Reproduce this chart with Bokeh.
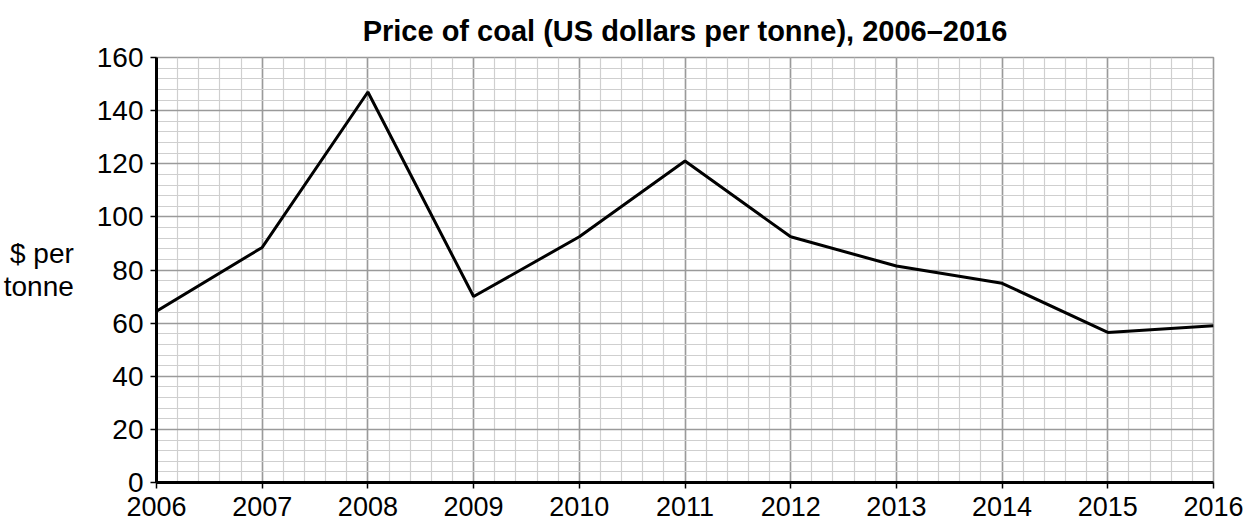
from bokeh.plotting import figure
from bokeh.models import SingleIntervalTicker, Range1d, Title
from bokeh.embed import file_html
from bokeh.resources import INLINE

years = [2006, 2007, 2008, 2009, 2010, 2011, 2012, 2013, 2014, 2015, 2016]
prices = [64.5, 88.5, 147, 70, 92.5, 121, 92.5, 81.5, 75, 56.5, 59]
title_text = "Price of coal (US dollars per tonne), 2006\u20132016"
ylabel_text = "$ per\ntonne"

FONT = "Liberation Sans"

p = figure(width=1250, height=527, output_backend="svg", toolbar_location=None,
           x_range=Range1d(2006, 2016), y_range=Range1d(0, 160),
           min_border_left=155, min_border_right=37, min_border_top=57, min_border_bottom=45)

p.title = Title(text=title_text, align="center", text_font=FONT,
                text_font_size="29px", text_font_style="bold", text_color="black", standoff=22)

p.xaxis.ticker = SingleIntervalTicker(interval=1, num_minor_ticks=5)
p.yaxis.ticker = SingleIntervalTicker(interval=20, num_minor_ticks=5)

for ax in (p.xaxis, p.yaxis):
    ax.axis_line_color = "black"
    ax.axis_line_width = 3
    ax.major_tick_line_color = "black"
    ax.major_tick_line_width = 1.5
    ax.major_tick_out = 6
    ax.major_tick_in = 0
    ax.minor_tick_line_color = None
    ax.major_label_text_font = FONT
    ax.major_label_text_font_size = "28px"
    ax.major_label_text_color = "black"
p.xaxis.major_label_text_font_size = "27px"
p.xaxis.major_label_standoff = 8
p.yaxis.major_label_standoff = 7

p.yaxis.axis_label = ylabel_text
p.yaxis.axis_label_orientation = "horizontal"
p.yaxis.axis_label_text_font = FONT
p.yaxis.axis_label_text_font_size = "28px"
p.yaxis.axis_label_text_font_style = "normal"
p.yaxis.axis_label_text_color = "black"
p.yaxis.axis_label_text_line_height = 1.05
p.yaxis.axis_label_standoff = 20

for g in (p.xgrid, p.ygrid):
    g.grid_line_color = "#9a9a9a"
    g.grid_line_width = 1.6
    g.minor_grid_line_color = "#cfcfcf"
    g.minor_grid_line_width = 1.2

p.outline_line_color = "#9a9a9a"
p.outline_line_width = 1.6
p.background_fill_color = "white"
p.border_fill_color = "white"

p.line(years, prices, line_color="black", line_width=3)

open("out.html", "w").write(file_html(p, INLINE))
